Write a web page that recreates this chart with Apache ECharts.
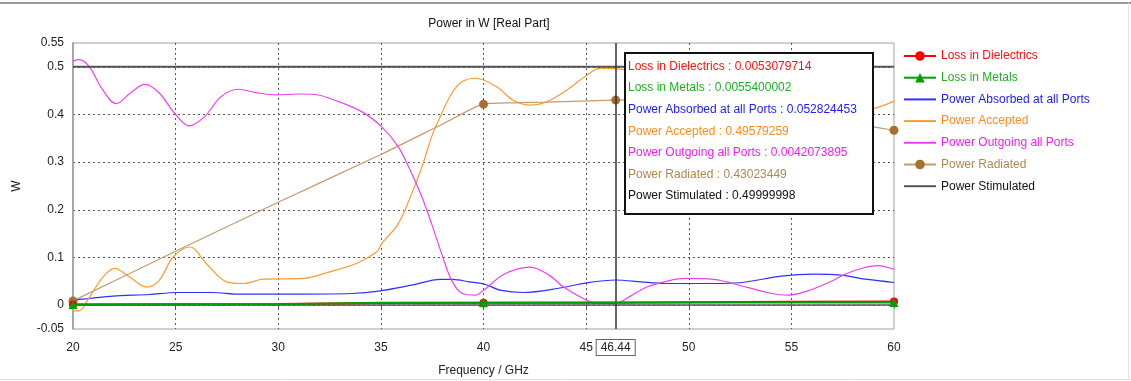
<!DOCTYPE html>
<html>
<head>
<meta charset="utf-8">
<script src="https://cdn.jsdelivr.net/npm/echarts@6/dist/echarts.min.js"></script>
<style>
  html, body { margin: 0; padding: 0; background: #fff; }
  #chart { width: 1131px; height: 381px; }
</style>
</head>
<body>
<div id="chart"></div>
<script>
// ---- text ----
const titleText = 'Power in W [Real Part]';
const xAxisName = 'Frequency / GHz';
const yAxisName = 'W';

// ---- axes ----
const xMin = 20, xMax = 60, xStep = 5;
const yMin = -0.05, yMax = 0.55;
const yTickValues = [-0.05, 0, 0.1, 0.2, 0.3, 0.4, 0.5, 0.55];

// frequency of the probe cursor
const cursorFreq = 46.44;

// ---- series ----
const seriesNames = [
  'Loss in Dielectrics',
  'Loss in Metals',
  'Power Absorbed at all Ports',
  'Power Accepted',
  'Power Outgoing all Ports',
  'Power Radiated',
  'Power Stimulated'
];

const dielectricFreq = [20, 25, 30, 35, 40, 46.44, 50, 55, 60];
const dielectricVal  = [0.0012, 0.0018, 0.0022, 0.0045, 0.0049, 0.0053079714, 0.0062, 0.0072, 0.0075];

const metalFreq = [20, 25, 30, 35, 40, 46.44, 50, 55, 60];
const metalVal  = [0.0015, 0.0017, 0.0021, 0.0050, 0.0053, 0.0055400002, 0.0056, 0.0056, 0.0057];

const absorbedFreq = [20, 20.8, 21.95, 23.73, 25.03, 26.8, 28.1, 30.06, 33.6, 34.9, 36.5, 37.9, 38.5, 39.3, 40.1, 40.8, 41.97, 43.6, 45.03, 46.44, 47.66, 48.8, 51.2, 52.5, 54.5, 56.1, 57.4, 58.7, 60];
const absorbedVal  = [0.0105, 0.014, 0.019, 0.0224, 0.0266, 0.0266, 0.023, 0.023, 0.0245, 0.0294, 0.042, 0.054, 0.054, 0.049, 0.0434, 0.0315, 0.0266, 0.035, 0.0468, 0.052824453, 0.049, 0.0455, 0.0455, 0.047, 0.061, 0.065, 0.063, 0.054, 0.0476];

const acceptedFreq = [20, 20.3, 20.8, 21.46, 22.03, 22.76, 23.58, 24.2, 24.88, 25.7, 26.5, 27.48, 28.3, 29.27, 31.23, 32.5, 33.8, 34.8, 35.04, 35.85, 36.5, 37.0, 37.47, 37.96, 38.45, 38.95, 39.6, 40.64, 41.45, 42.27, 43.08, 44.06, 45.03, 45.68, 46.44, 47.5, 49, 51, 53, 55, 57, 58.5, 59.28, 60];
const acceptedVal  = [-0.012, -0.012, 0.017, 0.059, 0.077, 0.059, 0.038, 0.052, 0.101, 0.122, 0.087, 0.049, 0.0455, 0.0545, 0.056, 0.070, 0.0875, 0.112, 0.129, 0.171, 0.234, 0.290, 0.353, 0.402, 0.444, 0.4685, 0.476, 0.458, 0.430, 0.4196, 0.4266, 0.451, 0.4826, 0.4966, 0.49579259, 0.490, 0.470, 0.445, 0.425, 0.412, 0.405, 0.408, 0.416, 0.428];

const outgoingFreq = [20, 20.3, 20.8, 21.4, 22.1, 22.8, 23.5, 24.2, 25.0, 25.65, 26.4, 27.2, 28.05, 28.9, 29.9, 31.0, 31.8, 32.75, 34.06, 35.04, 35.85, 36.5, 37.0, 37.47, 37.96, 38.45, 38.95, 39.6, 40.0, 41.0, 42.27, 43.2, 43.9, 45.2, 45.8, 46.44, 47.2, 47.96, 49.0, 49.9, 51.2, 52.8, 54.0, 54.8, 55.8, 56.9, 57.7, 58.5, 59.2, 60];
const outgoingVal  = [0.512, 0.515, 0.500, 0.455, 0.423, 0.445, 0.463, 0.445, 0.400, 0.376, 0.395, 0.437, 0.453, 0.446, 0.441, 0.443, 0.442, 0.430, 0.406, 0.374, 0.332, 0.276, 0.227, 0.171, 0.108, 0.052, 0.025, 0.021, 0.031, 0.065, 0.080, 0.063, 0.038, 0.007, 0.0035, 0.0042073895, 0.020, 0.038, 0.051, 0.056, 0.054, 0.038, 0.025, 0.021, 0.030, 0.049, 0.0665, 0.078, 0.083, 0.075];

const radiatedFreq = [20, 25, 30, 35, 37.96, 40, 41.45, 43.08, 45.5, 46.44, 48, 50, 52, 54, 56, 58, 59.28, 60];
const radiatedVal  = [0.009, 0.113, 0.216, 0.316, 0.379, 0.4217, 0.4245, 0.426, 0.429, 0.43023449, 0.431, 0.428, 0.420, 0.408, 0.395, 0.381, 0.372, 0.367];

const stimulatedFreq = [20, 46.44, 60];
const stimulatedVal  = [0.49999998, 0.49999998, 0.49999998];

// frequencies that carry a symbol marker, per series
const dielectricMarks = [20, 40, 60];
const metalMarks = [20, 40, 60];
const radiatedMarks = [20, 40, 46.44, 60];

const FONT = '"Liberation Sans", Arial, sans-serif';

const allFreq = [dielectricFreq, metalFreq, absorbedFreq, acceptedFreq, outgoingFreq, radiatedFreq, stimulatedFreq];
const allVal  = [dielectricVal, metalVal, absorbedVal, acceptedVal, outgoingVal, radiatedVal, stimulatedVal];
const lineColors = ['#ff0000', '#00a000', '#3030ff', '#ff9a30', '#f040f0', '#c49a6c', '#555555'];
const textColors = ['#ff1010', '#20b020', '#2020ff', '#ff8c1a', '#f020f0', '#b08850', '#111111'];
// series whose legend entry shows a marker on the line
const legendHasMarker = [true, true, false, false, false, true, false];

function pairs(freq, vals, marks) {
  return freq.map((f, i) => {
    const item = { value: [f, vals[i]] };
    if (marks && marks.indexOf(f) < 0) item.symbol = 'none';
    return item;
  });
}

const series = [
  {
    name: seriesNames[0], type: 'line', z: 4,
    data: pairs(dielectricFreq, dielectricVal, dielectricMarks),
    symbol: 'circle', symbolSize: 8, showAllSymbol: true,
    lineStyle: { color: lineColors[0], width: 2 },
    itemStyle: { color: lineColors[0] }
  },
  {
    name: seriesNames[1], type: 'line', z: 5,
    data: pairs(metalFreq, metalVal, metalMarks),
    symbol: 'triangle', symbolSize: 9, showAllSymbol: true,
    lineStyle: { color: lineColors[1], width: 2 },
    itemStyle: { color: lineColors[1] }
  },
  {
    name: seriesNames[2], type: 'line', z: 3, smooth: 0.3,
    data: pairs(absorbedFreq, absorbedVal), symbol: 'none',
    lineStyle: { color: lineColors[2], width: 1.2 },
    itemStyle: { color: lineColors[2] }
  },
  {
    name: seriesNames[3], type: 'line', z: 3, smooth: 0.35,
    data: pairs(acceptedFreq, acceptedVal), symbol: 'none',
    lineStyle: { color: lineColors[3], width: 1.2 },
    itemStyle: { color: lineColors[3] }
  },
  {
    name: seriesNames[4], type: 'line', z: 3, smooth: 0.35,
    data: pairs(outgoingFreq, outgoingVal), symbol: 'none',
    lineStyle: { color: lineColors[4], width: 1.2 },
    itemStyle: { color: lineColors[4] }
  },
  {
    name: seriesNames[5], type: 'line', z: 3, smooth: 0.2,
    data: pairs(radiatedFreq, radiatedVal, radiatedMarks),
    symbol: 'circle', symbolSize: 9, showAllSymbol: true,
    lineStyle: { color: lineColors[5], width: 1.2 },
    itemStyle: { color: '#a8702e' }
  },
  {
    name: seriesNames[6], type: 'line', z: 3,
    data: pairs(stimulatedFreq, stimulatedVal), symbol: 'none',
    lineStyle: { color: lineColors[6], width: 2 },
    itemStyle: { color: lineColors[6] },
    markLine: {
      silent: true, animation: false, symbol: 'none',
      lineStyle: { color: '#333', width: 1.5, type: 'solid' },
      label: {
        show: true, position: 'start', distance: 11,
        formatter: String(cursorFreq),
        fontFamily: FONT, fontSize: 12, color: '#222',
        backgroundColor: '#fff', borderColor: '#666', borderWidth: 1,
        padding: [2, 4, 1, 4]
      },
      data: [{ xAxis: cursorFreq }]
    }
  }
];

// probe readout box built from the values at the cursor frequency
const tipLeft = 624, tipTop = 52, tipW = 248, tipH = 161, tipRow = 21.6;
const tipElements = [{
  type: 'rect', left: tipLeft, top: tipTop, z: 100,
  shape: { width: tipW, height: tipH },
  style: { fill: '#fff', stroke: '#111', lineWidth: 2 }
}];
seriesNames.forEach((n, i) => {
  const idx = allFreq[i].indexOf(cursorFreq);
  tipElements.push({
    type: 'text', left: tipLeft + 4, top: tipTop + 8.5 + i * tipRow, z: 101,
    style: { text: n + ' : ' + allVal[i][idx], fill: textColors[i], font: '12px ' + FONT }
  });
});

const chart = echarts.init(document.getElementById('chart'), null, { renderer: 'canvas' });
chart.setOption({
  animation: false,
  backgroundColor: '#fff',
  textStyle: { fontFamily: FONT },
  title: {
    text: titleText, left: 484, top: 13, textAlign: 'center',
    textStyle: { fontFamily: FONT, fontSize: 12, fontWeight: 'normal', color: '#111' }
  },
  legend: {
    orient: 'vertical', left: 903, top: 50, padding: 0,
    itemWidth: 32, itemHeight: 12, itemGap: 9.7,
    data: seriesNames.map((n, i) => {
      const item = { name: n, textStyle: { color: textColors[i] } };
      if (!legendHasMarker[i]) item.itemStyle = { opacity: 0 };
      return item;
    }),
    textStyle: { fontFamily: FONT, fontSize: 12 }
  },
  grid: {
    left: 73, right: 237, top: 43, bottom: 52,
    outerBoundsMode: 'none', containLabel: false,
    show: true, borderColor: '#a0a0a0', borderWidth: 1, backgroundColor: 'transparent'
  },
  xAxis: {
    type: 'value', min: xMin, max: xMax, interval: xStep,
    name: xAxisName, nameLocation: 'middle', nameGap: 36,
    nameTextStyle: { fontFamily: FONT, fontSize: 12, color: '#222' },
    axisLine: { lineStyle: { color: '#555', width: 1.5 } },
    axisTick: { show: true, length: 3, lineStyle: { color: '#555' } },
    axisLabel: { fontFamily: FONT, fontSize: 12, color: '#222', margin: 13 },
    splitLine: {
      show: true, showMinLine: false, showMaxLine: false,
      lineStyle: { color: '#555', type: [2, 3], width: 1 }
    }
  },
  yAxis: {
    type: 'value', min: yMin, max: yMax,
    name: yAxisName, nameLocation: 'middle', nameGap: 50, nameRotate: 90,
    nameTextStyle: { fontFamily: FONT, fontSize: 12, color: '#222' },
    axisLine: { show: true, lineStyle: { color: '#9a9a9a', width: 1.5 } },
    axisTick: { show: false, customValues: yTickValues },
    axisLabel: {
      fontFamily: FONT, fontSize: 12, color: '#222', margin: 9,
      customValues: yTickValues,
      formatter: v => String(Math.round(v * 100) / 100)
    },
    splitLine: {
      show: true, showMinLine: false, showMaxLine: false,
      lineStyle: { color: '#555', type: [2, 3], width: 1 }
    }
  },
  series: series,
  graphic: tipElements.concat([
    { type: 'line', shape: { x1: 0, y1: 3, x2: 1131, y2: 3 }, style: { stroke: '#9a9a9a', lineWidth: 2 }, z: 50 },
    { type: 'line', shape: { x1: 0, y1: 379.5, x2: 1131, y2: 379.5 }, style: { stroke: '#e4e4e4', lineWidth: 1 }, z: 50 },
    { type: 'line', shape: { x1: 1128.5, y1: 3, x2: 1128.5, y2: 380 }, style: { stroke: '#e4e4e4', lineWidth: 1 }, z: 50 }
  ])
});
</script>
</body>
</html>
